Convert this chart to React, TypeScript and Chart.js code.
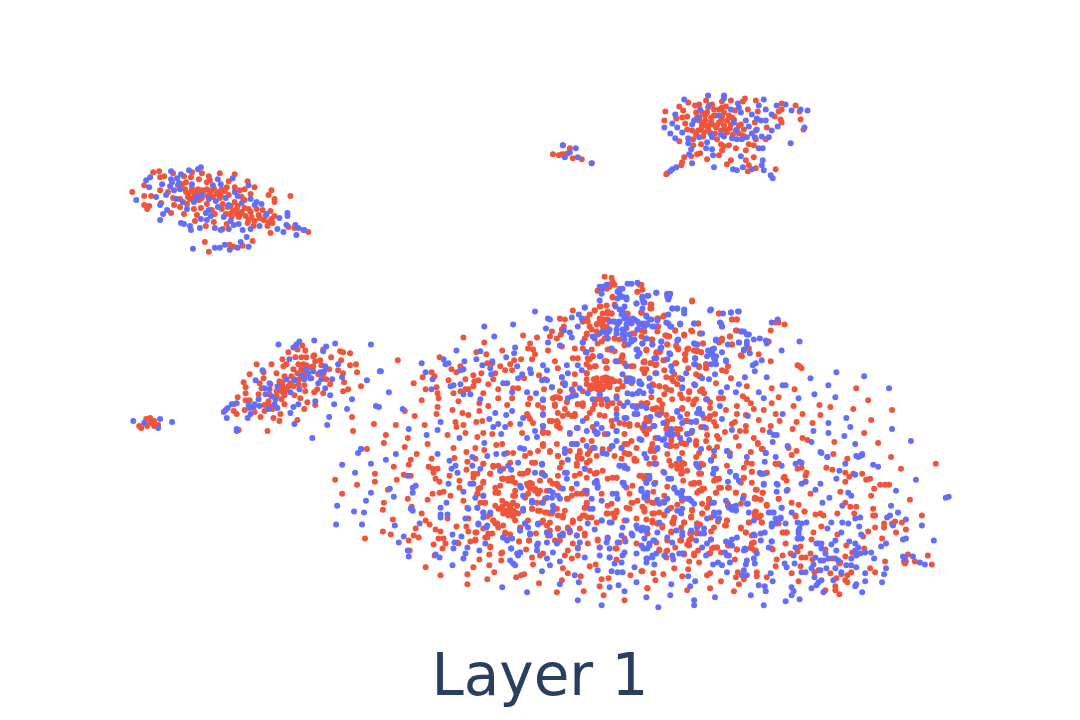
import React, { useEffect, useRef } from "react";
import { Chart, registerables } from "chart.js";

Chart.register(...registerables);

const titleText = "Layer 1";
const blueName = "Blue";
const redName = "Red";

const blueUpperLeft = [[134,198],[144,178],[148,175],[147,185],[154,195],[158,203],[165,208],[161,212],[158,218],[160,182],[169,169],[169,177],[179,172],[187,168],[196,167],[199,165],[170,180],[172,188],[164,193],[178,187],[190,182],[211,183],[216,177],[219,182],[231,176],[233,190],[207,197],[216,205],[185,207],[207,208],[222,215],[179,221],[182,222],[188,224],[189,228],[199,217],[205,218],[198,226],[213,226],[219,228],[227,227],[232,223],[241,228],[249,227],[258,224],[245,235],[239,240],[191,247],[213,246],[218,246],[223,243],[236,246],[247,245],[228,248],[253,203],[260,202],[249,197],[247,183],[278,216],[286,211],[286,214],[276,227],[282,230],[285,223],[294,223],[297,226],[295,233],[303,228],[195,195],[200,193],[227,203],[175,176],[177,181],[168,184],[174,197],[181,200],[192,200],[204,211],[209,214],[214,199],[224,196],[236,194],[240,201],[229,219],[237,222],[255,200],[265,212]];
const blueTop = [[563,143],[576,146],[565,155],[578,155],[592,161],[570,150],[685,97],[676,112],[673,121],[665,125],[678,125],[671,131],[676,136],[683,130],[689,136],[689,141],[693,122],[709,93],[725,93],[725,96],[739,101],[740,105],[765,97],[760,103],[767,107],[753,112],[758,116],[778,103],[787,102],[793,108],[809,108],[802,107],[806,125],[773,112],[767,118],[762,118],[779,124],[773,128],[770,135],[763,134],[753,131],[758,127],[748,135],[743,137],[738,137],[713,135],[708,140],[707,146],[713,147],[714,153],[692,147],[690,152],[693,161],[715,165],[792,141],[760,146],[764,146],[742,154],[764,158],[763,163],[734,167],[738,168],[744,165],[753,167],[765,168],[772,173],[774,176],[677,165],[673,167],[671,169],[700,115],[735,120],[747,118],[700,135],[722,132],[737,128],[720,113],[695,118],[701,107],[712,132],[725,134],[733,136],[742,110],[750,124],[756,135],[710,103],[732,107]];
const blueLeft = [[131,420],[158,418],[170,421],[142,422],[156,427],[277,343],[298,340],[313,339],[334,342],[370,343],[325,345],[322,350],[292,346],[295,343],[288,358],[337,363],[324,365],[323,370],[319,371],[307,372],[309,377],[303,378],[293,379],[320,378],[331,378],[317,382],[324,387],[329,394],[341,376],[366,379],[379,370],[351,398],[333,403],[346,408],[328,416],[326,424],[311,437],[293,423],[289,412],[292,406],[297,403],[314,400],[298,388],[289,391],[276,385],[268,382],[254,379],[261,369],[263,387],[268,388],[264,393],[257,398],[253,403],[247,404],[248,407],[252,406],[249,413],[246,417],[235,402],[230,403],[226,407],[224,409],[222,411],[225,417],[235,428],[235,430],[274,398],[273,403],[276,407],[267,408],[375,405],[378,406],[360,448],[305,368],[312,370],[300,374],[285,378],[270,395],[258,405]];
const blueMainUpperLeft = [[380,370],[388,391],[402,408],[408,428],[426,434],[437,429],[440,421],[459,437],[421,362],[425,371],[432,378],[431,388],[450,385],[453,384],[443,358],[445,363],[448,362],[456,349],[464,360],[463,368],[460,369],[460,383],[463,393],[470,393],[480,398],[484,325],[494,335],[513,323],[535,310],[476,358],[482,364],[480,350],[490,367],[492,360],[491,373],[506,356],[503,382],[507,382],[515,346],[514,352],[517,365],[522,373],[518,377],[530,368],[531,372],[512,391],[527,391],[536,392],[543,364],[547,369],[542,379],[547,379],[552,386],[543,398],[489,418],[495,412],[506,414],[512,410],[493,426],[498,423],[505,426],[501,433],[520,423],[523,417],[535,430],[543,425],[537,436],[527,437],[546,327],[548,317],[550,318],[548,341],[572,316],[579,313],[585,306],[564,329],[570,331],[572,336],[560,344],[583,341],[586,351],[601,355],[617,360],[567,364],[568,372],[562,376],[578,364],[582,369],[565,382],[572,388],[588,392],[576,394],[600,393],[568,397],[624,405],[633,393],[628,392],[607,398],[638,348],[627,365],[627,380],[633,378],[640,382],[638,392],[647,407],[627,417],[635,413],[617,418],[645,425],[597,423],[597,433],[617,430],[603,285],[607,283],[602,292],[620,287],[623,287],[628,282],[632,282],[638,281],[643,295],[620,292],[623,295],[600,299],[627,298],[637,302],[645,301],[623,310],[625,315],[633,317],[640,323],[645,325],[620,320],[628,320],[632,322],[617,328],[623,328],[638,328],[632,338],[625,333],[643,342],[637,348],[620,308],[625,305],[607,332],[609,330],[578,325],[593,335]];
const blueMainUpperRight = [[657,291],[668,292],[671,292],[668,295],[643,295],[649,294],[644,301],[673,307],[678,307],[685,310],[711,309],[724,312],[732,311],[739,310],[669,313],[647,314],[650,318],[658,319],[642,322],[648,323],[653,325],[667,321],[671,325],[681,322],[695,322],[721,321],[723,325],[703,332],[742,330],[745,330],[750,333],[755,338],[748,340],[748,343],[761,337],[767,339],[768,342],[773,321],[779,318],[801,340],[783,349],[662,340],[643,342],[653,343],[678,339],[661,347],[695,342],[698,343],[717,338],[715,347],[709,349],[713,351],[717,355],[716,359],[723,351],[729,343],[740,341],[745,349],[751,352],[763,359],[757,362],[754,364],[756,370],[727,360],[671,353],[655,357],[668,358],[696,357],[696,363],[712,363],[673,370],[716,373],[710,378],[703,377],[746,376],[768,376],[812,377],[838,371],[866,375],[740,383],[728,386],[722,391],[737,391],[760,391],[765,397],[784,384],[787,384],[816,393],[830,384],[837,396],[800,397],[891,387],[696,384],[683,386],[683,378],[642,383],[650,385],[644,392],[708,398],[721,405],[700,408],[698,412],[702,413],[723,418],[678,411],[681,416],[664,422],[660,414],[692,421],[642,405],[651,416],[654,425],[784,413],[749,415],[733,429],[771,431],[775,434],[778,434],[774,441],[815,430],[830,422],[830,432],[848,417],[852,426],[846,435],[857,443],[894,428],[913,440],[813,441],[671,432],[673,434],[668,433],[681,437],[693,430],[690,439],[659,437],[663,439],[642,439],[667,444],[658,448],[645,453],[702,448],[715,450],[728,450],[731,455],[748,456],[767,452],[789,445],[777,456],[822,451],[829,456],[858,455],[862,455],[864,453],[680,458],[712,459]];
const blueMainLowerLeft = [[357,452],[360,448],[385,459],[395,453],[341,464],[354,472],[370,463],[370,492],[365,500],[336,505],[353,511],[363,512],[335,524],[361,524],[389,488],[393,496],[394,525],[403,536],[398,542],[408,556],[407,550],[410,508],[412,510],[419,523],[407,475],[412,487],[412,492],[415,485],[437,453],[449,460],[455,465],[451,468],[457,472],[448,483],[463,491],[446,502],[440,507],[440,514],[447,514],[440,517],[465,518],[452,534],[461,536],[454,542],[453,548],[467,547],[465,553],[463,558],[435,554],[439,557],[452,565],[486,527],[478,524],[485,543],[477,507],[483,512],[470,483],[468,508],[472,456],[472,465],[480,468],[487,455],[496,453],[484,442],[511,469],[500,470],[520,447],[504,453],[524,448],[503,537],[507,539],[512,538],[511,548],[520,530],[525,523],[528,527],[538,524],[530,533],[537,545],[520,552],[518,555],[510,560],[513,563],[515,565],[542,571],[550,565],[560,561],[547,558],[502,587],[527,592],[578,600],[602,605],[579,582],[560,584],[575,575],[523,495],[523,508],[532,502],[521,487],[542,464],[535,472],[543,473],[550,490],[547,497],[553,505],[560,498],[565,472],[567,478],[572,443],[577,443],[587,445],[595,447],[603,452],[613,445],[622,447],[620,465],[625,465],[597,482],[598,487],[587,490],[613,493],[623,482],[642,490],[645,495],[593,508],[602,500],[602,520],[612,522],[623,527],[595,529],[588,523],[577,535],[563,535],[557,543],[547,542],[537,550],[553,552],[578,548],[585,557],[600,547],[607,542],[610,548],[610,557],[615,563],[623,555],[622,562],[612,571],[618,572],[623,572],[598,570],[635,567],[637,582],[619,585],[625,591],[632,533],[638,528],[645,528],[637,553],[645,548],[647,558],[610,587]];
const blueMainLowerRight = [[918,479],[948,497],[951,496],[936,540],[924,525],[908,519],[900,512],[893,505],[898,490],[875,464],[880,466],[864,454],[860,456],[847,463],[841,470],[857,474],[838,478],[822,483],[817,489],[803,483],[807,481],[831,497],[824,502],[850,492],[853,495],[844,505],[823,452],[829,456],[801,461],[783,465],[766,461],[767,452],[761,472],[763,473],[779,484],[765,484],[778,491],[737,476],[731,471],[717,468],[714,473],[729,481],[712,460],[728,450],[658,447],[675,487],[683,490],[682,495],[688,498],[692,500],[669,478],[650,478],[655,483],[647,482],[642,490],[648,495],[658,499],[715,502],[727,500],[734,507],[737,509],[732,506],[744,498],[749,503],[773,512],[783,507],[782,517],[777,523],[773,526],[787,523],[793,512],[799,522],[808,522],[803,523],[801,528],[800,533],[799,538],[803,538],[762,533],[766,532],[755,534],[773,541],[770,547],[733,539],[731,542],[720,518],[715,512],[708,518],[705,528],[698,527],[682,513],[668,510],[660,522],[643,527],[648,528],[642,530],[668,537],[673,542],[654,540],[650,545],[644,548],[657,553],[653,555],[648,558],[674,559],[655,564],[647,562],[683,553],[703,547],[697,540],[708,543],[726,552],[728,555],[731,562],[719,562],[723,565],[714,564],[746,548],[748,560],[755,558],[756,563],[747,564],[745,570],[743,575],[748,575],[728,572],[772,573],[774,581],[760,585],[766,586],[767,591],[752,595],[786,563],[788,567],[796,563],[803,572],[807,572],[793,587],[795,591],[793,595],[787,601],[801,599],[765,605],[716,597],[695,600],[695,605],[659,607],[671,595],[672,584],[691,586],[696,581],[647,597],[689,576],[815,564],[813,568],[817,557],[822,560],[825,560],[830,558],[827,553],[823,548],[820,543],[818,543],[823,543],[838,550],[837,558],[840,560],[853,558],[858,555],[862,553],[867,552],[857,550],[860,547],[851,541],[857,543],[873,552],[876,558],[883,546],[888,543],[905,539],[908,538],[905,556],[915,556],[922,562],[927,564],[907,558],[858,567],[853,565],[848,565],[837,568],[828,568],[822,570],[816,577],[820,582],[823,580],[818,585],[813,588],[825,592],[835,580],[843,572],[858,584],[857,586],[864,592],[867,573],[867,581],[884,582],[886,574],[888,568],[862,517],[857,518],[850,523],[844,522],[861,526],[863,534],[833,522],[829,528],[843,532],[837,540],[833,544],[892,515],[889,517],[895,525]];
const blueCentre = [[562,376],[552,386],[543,399],[543,413],[543,425],[565,384],[572,395],[580,387],[600,393],[593,398],[617,397],[628,401],[637,407],[633,405],[638,413],[625,417],[617,413],[583,420],[577,427],[570,432],[595,430],[598,432],[587,430],[608,433],[617,430],[617,440],[622,447],[612,445],[573,443],[577,443],[603,452],[607,453],[565,448],[568,459],[565,452],[640,438],[665,438],[672,428],[670,433],[673,433],[688,433],[693,430],[705,426],[700,408],[703,413],[683,422],[697,420],[647,457],[625,467],[650,377],[657,372],[640,380],[633,380],[630,377],[623,373],[640,390],[652,390],[683,387],[687,372],[695,383],[678,410],[602,427],[655,425],[697,463],[700,467],[655,463]];
const blueLowerLeftDense = [[473,483],[475,497],[483,495],[477,507],[483,512],[483,517],[490,512],[487,525],[478,523],[479,550],[503,537],[507,540],[511,548],[520,552],[517,553],[530,534],[538,543],[525,523],[520,530],[523,510],[532,500],[542,502],[520,485],[542,473],[545,475],[558,495],[553,492],[552,497],[577,483],[563,488],[567,472],[595,482],[598,485],[597,480],[585,468],[617,493],[618,498],[624,482],[625,485],[628,468],[620,465],[590,508],[602,520],[610,522],[627,520],[637,525],[633,535],[622,535],[626,541],[618,542],[608,538],[625,552],[610,557],[600,555],[580,542],[560,535],[563,533],[570,530],[577,535],[547,532],[550,535],[538,523],[553,510],[508,465],[518,462],[542,463],[500,470],[592,498]];
const blueLowerRightDense = [[642,488],[648,492],[645,497],[650,475],[665,472],[672,478],[675,488],[678,492],[683,497],[682,493],[690,498],[668,498],[660,503],[665,502],[683,508],[678,510],[695,503],[713,502],[720,512],[715,515],[730,507],[733,509],[737,510],[737,505],[748,503],[750,512],[755,520],[770,512],[775,512],[783,507],[782,518],[777,518],[773,523],[800,530],[800,538],[803,538],[797,547],[795,555],[642,528],[647,530],[658,532],[645,538],[655,540],[650,543],[642,545],[648,548],[677,530],[683,532],[692,530],[702,533],[705,533],[712,539],[683,535],[727,541],[733,545],[738,537],[747,549],[762,540],[758,553],[773,541],[797,463],[803,462],[715,468],[737,475],[740,480],[762,473],[765,473],[765,483],[778,483],[788,490],[673,555],[680,553],[707,555],[653,557],[665,555],[730,555],[745,550]];
const blueUpperDense = [[600,285],[603,287],[618,290],[622,295],[618,297],[627,296],[637,302],[643,298],[648,294],[657,291],[668,293],[670,295],[669,298],[616,305],[585,306],[643,307],[623,308],[622,313],[625,317],[630,318],[635,318],[647,315],[652,318],[638,320],[645,322],[655,325],[627,323],[618,323],[615,320],[610,320],[603,330],[610,328],[617,332],[625,328],[623,333],[630,333],[635,338],[647,337],[632,340],[582,317],[600,332],[595,337],[583,341],[587,351],[600,355],[608,337],[662,340],[662,346],[669,322],[672,325],[681,323],[673,307],[678,307],[685,308],[685,312],[712,308],[695,322],[732,311],[740,310],[722,322],[723,325],[743,330],[748,333],[740,341],[745,348],[717,339],[713,348],[712,353],[715,357],[708,355],[717,363],[695,342],[698,343],[679,338],[657,357],[670,352],[640,352],[638,355],[629,343],[625,338],[612,347],[727,359],[696,357],[695,363],[672,365]];

const redUpperLeft = [[130,190],[142,183],[142,194],[149,194],[142,203],[147,204],[145,207],[159,201],[151,170],[157,169],[158,175],[162,174],[158,188],[166,190],[171,196],[172,203],[169,211],[178,197],[178,205],[182,212],[171,171],[182,174],[189,175],[190,170],[200,171],[197,177],[176,183],[180,182],[184,180],[184,190],[190,188],[195,190],[200,188],[205,180],[207,174],[208,178],[218,171],[233,172],[227,179],[225,185],[210,188],[215,192],[220,187],[188,197],[185,202],[192,207],[199,206],[197,198],[205,202],[210,208],[213,212],[195,213],[193,219],[204,224],[212,220],[221,202],[220,207],[227,193],[224,212],[225,222],[221,227],[230,215],[237,215],[229,204],[235,207],[233,200],[240,195],[243,198],[233,185],[238,188],[243,187],[249,192],[246,179],[253,185],[247,207],[240,210],[247,218],[250,215],[255,207],[261,208],[257,213],[252,224],[262,218],[267,220],[270,217],[269,209],[273,200],[273,197],[270,188],[267,193],[289,194],[269,231],[287,225],[293,226],[302,228],[307,230],[203,240],[207,250],[228,243],[232,245],[241,244],[251,239],[183,187],[187,191],[190,186],[193,192],[196,187],[199,192],[202,189],[205,187],[208,192],[212,186],[216,190],[219,193],[223,189],[186,195],[192,195],[200,196],[206,194],[211,195],[218,196],[226,205],[231,209],[236,204],[239,212],[243,206],[228,212],[235,212],[244,214],[249,210],[253,219],[258,216],[264,214],[246,221],[266,224],[271,221],[273,214]];
const redTop = [[553,152],[559,153],[563,143],[570,146],[565,152],[568,151],[573,156],[582,157],[592,161],[562,152],[666,109],[665,118],[689,100],[680,104],[684,108],[677,116],[683,115],[688,114],[686,121],[696,103],[700,102],[707,98],[713,102],[723,99],[732,98],[727,104],[746,96],[744,99],[757,98],[749,107],[759,109],[783,101],[783,107],[780,109],[797,103],[801,109],[802,117],[805,127],[776,114],[782,117],[783,120],[756,120],[768,125],[757,128],[708,110],[712,115],[697,110],[698,115],[720,107],[725,110],[730,113],[733,115],[717,113],[722,118],[713,122],[708,123],[703,122],[702,127],[705,130],[718,123],[725,123],[732,122],[740,123],[745,127],[728,130],[688,127],[693,128],[697,132],[694,137],[680,139],[704,134],[702,142],[718,137],[722,142],[730,143],[725,144],[723,148],[737,146],[747,148],[750,142],[755,143],[767,137],[757,137],[694,143],[698,152],[692,154],[701,151],[708,157],[720,153],[755,155],[685,155],[683,160],[682,163],[668,171],[667,172],[732,158],[728,162],[747,158],[750,163],[749,169],[757,166],[777,167],[700,118],[703,124],[706,118],[709,126],[712,119],[715,113],[717,125],[720,120],[723,114],[726,127],[728,118],[731,126],[735,117],[738,127],[742,122],[699,128],[711,130],[716,131],[722,128],[734,132],[740,131],[744,133],[706,113],[703,110],[709,105],[723,105],[736,108],[715,107]];
const redLeft = [[137,425],[139,427],[144,418],[148,417],[145,425],[148,422],[152,420],[156,424],[152,425],[255,363],[270,363],[248,373],[242,381],[244,386],[244,392],[236,396],[244,399],[248,399],[232,403],[232,410],[235,413],[243,409],[253,411],[259,416],[266,430],[237,429],[272,417],[278,420],[279,413],[296,419],[303,408],[314,404],[306,401],[263,410],[263,404],[268,405],[271,408],[267,400],[257,393],[268,393],[275,390],[280,390],[283,394],[280,398],[283,403],[293,394],[299,397],[258,382],[260,387],[269,383],[278,380],[283,375],[281,385],[287,385],[292,385],[297,383],[303,384],[304,390],[313,391],[316,388],[322,392],[298,378],[304,374],[310,377],[317,373],[322,373],[325,378],[329,383],[343,381],[342,372],[337,369],[328,368],[342,390],[347,388],[360,385],[356,371],[355,363],[349,364],[340,359],[330,356],[339,350],[342,351],[349,352],[322,348],[313,354],[319,359],[312,365],[302,363],[297,363],[292,368],[285,363],[282,365],[275,372],[262,371],[262,377],[281,358],[287,351],[296,348],[301,344],[304,349],[300,356],[294,356],[305,356],[312,355],[352,430],[373,423],[351,416],[366,448],[278,385],[281,381],[285,388],[289,382],[293,378],[290,375],[296,372],[300,368],[305,364],[309,366],[314,360],[320,364],[303,370],[283,392],[275,395]];
const redMainUpperLeft = [[397,359],[385,434],[395,424],[404,410],[414,415],[413,382],[425,388],[421,399],[422,376],[431,371],[434,375],[436,386],[437,392],[438,397],[437,406],[436,413],[424,424],[407,437],[447,434],[452,409],[455,421],[456,426],[462,412],[468,414],[463,424],[465,432],[477,436],[476,421],[482,420],[479,410],[479,402],[488,405],[498,397],[498,388],[507,404],[488,383],[483,392],[448,379],[453,392],[458,400],[460,390],[465,388],[468,388],[473,385],[474,380],[465,378],[473,374],[478,379],[481,372],[451,368],[456,371],[460,365],[439,356],[463,336],[484,341],[476,351],[486,353],[487,362],[492,362],[495,372],[493,378],[502,349],[500,365],[505,369],[512,369],[510,363],[514,359],[521,358],[523,334],[530,342],[528,347],[537,336],[533,348],[532,358],[535,353],[548,349],[552,330],[550,335],[557,337],[561,333],[564,325],[560,317],[565,318],[573,309],[562,328],[562,345],[555,360],[558,367],[575,347],[573,357],[578,357],[588,357],[593,355],[587,363],[590,366],[596,365],[605,360],[607,367],[610,348],[615,350],[623,355],[620,360],[539,374],[544,388],[524,377],[513,387],[518,387],[512,397],[530,397],[528,403],[538,404],[543,407],[527,413],[530,418],[533,422],[543,414],[553,397],[560,397],[555,405],[558,412],[552,420],[558,422],[575,373],[587,372],[575,383],[587,378],[587,383],[590,388],[593,387],[597,377],[603,377],[608,377],[600,382],[605,385],[610,383],[597,385],[602,387],[615,380],[623,385],[627,377],[632,365],[645,370],[632,382],[617,395],[613,402],[617,408],[637,405],[642,402],[597,398],[602,398],[608,400],[578,403],[583,405],[568,413],[575,415],[587,417],[600,414],[605,415],[630,423],[638,424],[625,423],[593,426],[578,427],[570,433],[550,420],[557,425],[543,432],[522,432],[483,432],[492,433],[510,423],[528,415],[605,275],[612,276],[613,280],[610,285],[598,289],[642,283],[638,290],[613,295],[615,303],[601,305],[595,309],[608,312],[612,312],[587,317],[583,320],[597,323],[603,320],[607,325],[628,313],[642,311],[613,320],[598,333],[587,332],[590,325],[602,340],[608,337],[615,337],[627,327],[633,332],[645,330],[642,335],[625,344],[640,352],[645,361]];
const redMainUpperRight = [[693,300],[720,312],[733,318],[738,318],[651,303],[652,307],[642,311],[659,317],[664,315],[658,325],[642,329],[646,337],[652,338],[667,334],[670,335],[676,329],[685,334],[693,330],[699,322],[701,332],[668,343],[677,344],[679,347],[689,347],[686,353],[695,349],[698,350],[702,351],[704,342],[720,341],[723,339],[731,335],[738,329],[733,343],[750,347],[760,353],[743,355],[772,329],[770,340],[772,360],[777,321],[780,321],[786,323],[799,364],[801,365],[803,367],[647,349],[657,352],[660,351],[644,361],[651,362],[656,364],[664,359],[676,362],[686,359],[689,367],[707,363],[707,367],[700,366],[697,373],[701,375],[729,365],[727,370],[723,369],[732,377],[717,382],[643,368],[647,368],[645,372],[656,372],[665,369],[667,376],[672,377],[675,373],[681,377],[674,380],[678,383],[654,384],[660,385],[666,386],[672,389],[690,391],[681,393],[703,388],[701,390],[705,392],[748,385],[773,387],[796,388],[858,387],[665,393],[660,399],[673,398],[652,396],[648,402],[689,398],[695,400],[694,403],[711,401],[711,407],[720,397],[724,397],[744,395],[748,398],[752,402],[738,405],[727,409],[755,408],[765,409],[773,402],[780,396],[795,405],[821,404],[832,406],[855,408],[870,399],[894,409],[663,403],[657,407],[655,408],[662,408],[647,417],[667,414],[683,407],[683,408],[688,413],[711,415],[710,418],[716,413],[705,417],[697,421],[686,420],[673,418],[668,420],[715,421],[717,425],[738,413],[736,421],[733,423],[747,414],[760,419],[777,413],[781,420],[772,425],[764,429],[747,425],[747,430],[741,430],[726,431],[737,436],[804,413],[798,421],[814,422],[822,414],[794,428],[873,419],[866,432],[880,442],[836,441],[804,437],[809,439],[755,437],[759,442],[763,448],[645,423],[650,420],[645,430],[656,437],[667,428],[677,428],[681,428],[688,433],[692,432],[702,426],[707,427],[708,434],[718,435],[720,438],[707,440],[697,440],[683,442],[672,440],[653,443]];
const redMainLowerLeft = [[383,442],[404,446],[416,453],[410,459],[408,464],[393,466],[403,474],[410,475],[396,479],[374,473],[374,481],[356,484],[334,479],[341,493],[387,489],[383,502],[382,509],[407,498],[411,506],[421,513],[392,519],[382,531],[390,534],[364,538],[408,540],[413,535],[415,528],[418,537],[409,550],[425,567],[440,575],[467,574],[467,584],[434,555],[442,548],[433,544],[438,538],[443,538],[445,543],[435,529],[440,531],[425,520],[429,524],[447,518],[456,526],[466,526],[468,531],[476,532],[475,539],[470,541],[457,542],[458,543],[490,547],[479,559],[489,554],[473,567],[489,565],[494,572],[501,553],[501,560],[487,579],[516,577],[521,575],[524,574],[539,583],[557,592],[533,564],[532,557],[526,549],[519,541],[529,540],[505,533],[510,534],[492,533],[487,537],[483,528],[493,520],[497,523],[503,525],[487,516],[490,514],[468,518],[463,500],[467,507],[480,502],[485,502],[483,495],[477,493],[478,488],[483,481],[495,487],[500,485],[498,492],[502,500],[495,505],[500,508],[505,510],[510,507],[513,502],[515,495],[510,512],[515,512],[507,513],[515,520],[520,527],[502,478],[508,480],[512,477],[515,482],[503,468],[493,466],[498,465],[490,473],[477,473],[473,477],[483,463],[466,469],[467,461],[475,458],[454,457],[466,451],[475,447],[484,449],[496,444],[502,443],[453,447],[427,443],[431,458],[428,466],[432,468],[437,468],[433,472],[435,478],[439,481],[449,475],[459,480],[459,487],[432,493],[439,492],[443,491],[450,495],[427,499],[530,488],[535,490],[525,497],[527,483],[532,483],[520,473],[528,470],[535,462],[530,452],[525,455],[513,452],[507,452],[538,450],[543,443],[550,451],[558,455],[562,462],[550,480],[540,480],[538,490],[547,490],[557,483],[560,487],[543,502],[537,502],[532,508],[538,510],[547,512],[552,513],[543,520],[550,522],[558,528],[547,532],[548,535],[536,533],[557,508],[565,510],[563,517],[573,520],[568,528],[570,532],[580,518],[585,515],[592,517],[585,535],[573,543],[560,540],[568,550],[565,555],[572,558],[578,555],[543,553],[540,555],[563,568],[568,573],[562,580],[581,576],[600,586],[602,579],[609,578],[590,566],[596,564],[617,559],[616,548],[598,539],[620,542],[625,538],[637,543],[643,571],[631,575],[648,588],[584,591],[604,595],[625,600],[570,450],[580,452],[577,463],[578,457],[587,477],[575,475],[585,468],[595,473],[572,495],[582,493],[587,493],[567,498],[587,503],[585,507],[608,505],[612,503],[607,513],[613,513],[627,507],[632,502],[637,518],[617,510],[638,500],[645,508],[645,478],[640,475],[617,477],[608,478],[597,472],[627,487],[630,493],[615,455],[622,458],[628,453],[635,460],[597,455],[588,453],[603,448],[637,447],[625,443]];
const redMainLowerRight = [[670,445],[677,445],[685,443],[697,444],[710,447],[718,446],[740,445],[759,443],[764,448],[790,447],[798,450],[793,454],[835,453],[893,456],[938,463],[903,468],[651,450],[655,450],[668,453],[683,452],[700,452],[697,456],[715,455],[731,452],[752,451],[670,460],[650,463],[656,463],[678,465],[685,463],[682,468],[688,470],[704,464],[728,465],[748,462],[753,463],[745,467],[777,463],[780,463],[664,471],[682,473],[700,473],[753,471],[768,472],[745,477],[785,477],[799,468],[808,472],[807,481],[828,467],[834,469],[849,458],[847,472],[855,473],[851,476],[847,481],[864,473],[872,478],[868,479],[882,484],[887,484],[891,484],[876,488],[873,495],[912,499],[842,491],[812,493],[642,475],[647,482],[656,482],[684,480],[700,482],[695,483],[715,480],[718,479],[668,486],[654,491],[665,495],[648,499],[653,502],[664,501],[683,499],[702,490],[705,488],[698,492],[720,487],[717,492],[729,487],[737,492],[758,489],[764,492],[756,497],[762,499],[768,504],[789,489],[780,498],[793,502],[800,504],[847,502],[852,506],[858,506],[856,513],[875,508],[875,515],[877,515],[924,515],[904,522],[897,521],[886,523],[886,527],[877,527],[894,523],[908,529],[898,532],[884,538],[870,531],[865,536],[839,534],[823,526],[839,513],[822,513],[817,514],[825,515],[806,511],[797,516],[815,532],[784,532],[788,532],[813,539],[787,543],[774,549],[802,546],[799,551],[827,549],[848,545],[866,548],[854,552],[847,556],[834,558],[887,561],[910,554],[908,561],[906,561],[907,563],[917,561],[930,555],[934,564],[812,553],[807,557],[803,557],[814,559],[792,553],[784,555],[778,559],[777,566],[802,566],[820,570],[816,572],[832,573],[842,562],[841,563],[853,572],[849,575],[843,574],[838,578],[847,580],[849,582],[837,586],[837,590],[841,594],[827,590],[872,568],[877,572],[793,573],[800,581],[768,577],[758,572],[758,576],[745,579],[737,577],[739,572],[740,584],[722,581],[735,591],[711,588],[708,575],[711,573],[700,562],[690,561],[695,553],[685,554],[667,557],[660,549],[667,551],[676,547],[681,540],[688,544],[692,538],[699,550],[711,553],[722,552],[715,547],[718,547],[729,545],[738,549],[736,559],[752,547],[753,543],[756,535],[757,550],[747,532],[742,527],[726,525],[728,520],[719,520],[715,527],[712,539],[698,532],[691,533],[682,527],[674,520],[674,523],[685,522],[692,516],[698,523],[701,524],[703,513],[708,507],[710,499],[703,503],[693,509],[678,504],[672,507],[665,514],[660,512],[653,513],[647,519],[653,520],[658,523],[663,527],[672,531],[657,542],[648,533],[729,505],[750,522],[756,515],[757,511],[762,515],[763,522],[643,506],[645,511],[642,571],[654,573],[664,574],[656,580],[683,576],[688,590],[648,588],[675,568],[689,569]];
const redCentre = [[592,384],[596,380],[600,384],[604,379],[608,381],[612,378],[598,388],[603,388],[610,386],[594,378],[606,376],[555,396],[558,396],[555,403],[567,401],[578,403],[583,402],[575,413],[572,415],[565,408],[563,415],[590,412],[593,408],[595,403],[602,403],[601,398],[543,430],[548,432],[550,420],[557,420],[560,427],[543,445],[557,443],[550,450],[583,439],[592,440],[590,450],[580,450],[578,455],[582,458],[558,455],[590,460],[605,433],[612,420],[613,425],[620,422],[625,433],[630,425],[632,440],[628,443],[625,452],[630,453],[635,458],[647,420],[643,427],[650,428],[647,433],[653,408],[658,413],[662,412],[667,423],[673,418],[668,428],[678,433],[688,420],[683,397],[690,390],[697,398],[703,390],[707,398],[700,375],[680,377],[672,437],[672,445],[682,442],[687,443],[697,442],[677,463],[683,462],[652,447],[655,457],[637,460],[610,448],[593,447],[653,383],[660,385],[647,402],[668,388],[620,380],[623,385],[618,388],[608,405],[620,402],[560,390],[573,390],[583,390],[545,378],[587,372],[563,382]];
const redLowerLeftDense = [[502,506],[506,510],[510,506],[513,510],[517,505],[503,513],[508,515],[513,516],[518,513],[498,508],[506,503],[512,503],[473,473],[483,463],[493,465],[490,473],[503,478],[508,478],[512,480],[502,478],[483,482],[480,487],[477,493],[484,502],[498,492],[495,492],[515,490],[513,495],[528,493],[528,485],[535,488],[540,490],[538,493],[530,482],[558,485],[553,483],[545,498],[572,488],[568,498],[577,493],[585,490],[587,502],[585,507],[550,513],[545,512],[558,515],[563,515],[532,508],[540,510],[528,520],[542,522],[547,525],[550,530],[583,515],[588,517],[597,522],[573,522],[568,527],[580,528],[585,533],[558,528],[495,523],[493,520],[498,527],[488,533],[485,537],[505,532],[475,532],[475,540],[519,541],[529,540],[490,546],[502,552],[555,540],[578,547],[588,543],[598,540],[608,537],[617,548],[600,547],[602,493],[608,513],[617,512],[615,517],[625,520],[630,508],[633,502],[633,485],[613,477],[617,477],[587,462],[577,465],[580,473],[590,470],[597,472],[603,470],[560,467],[558,475],[542,472],[532,462],[523,473],[527,472],[510,462]];
const redLowerRightDense = [[683,463],[678,468],[683,472],[647,475],[657,463],[672,465],[698,465],[702,463],[702,473],[717,478],[720,478],[695,482],[700,482],[692,483],[655,483],[700,490],[703,488],[717,492],[722,487],[710,498],[683,500],[648,500],[655,502],[645,510],[655,513],[670,508],[675,517],[673,522],[685,522],[693,510],[692,517],[703,513],[712,517],[710,503],[698,523],[727,525],[728,520],[719,521],[712,531],[698,533],[692,533],[690,540],[682,540],[672,532],[663,525],[658,523],[653,522],[648,533],[665,515],[668,540],[690,545],[685,553],[695,555],[668,550],[660,550],[713,548],[718,547],[730,545],[738,549],[710,553],[753,548],[756,550],[755,542],[753,535],[747,532],[742,528],[750,522],[756,512],[757,517],[760,517],[763,522],[773,548],[785,532],[788,532],[797,515],[806,511],[780,523],[768,505],[729,503],[758,498],[764,492],[756,498],[780,498],[742,503],[730,487],[737,492],[757,489],[745,495],[753,482],[742,482],[745,477],[753,471],[768,472],[777,463],[780,463],[786,476],[788,480],[807,475],[803,467]];
const redUpperDense = [[598,289],[608,283],[612,282],[615,283],[607,287],[640,283],[643,288],[638,290],[613,296],[693,299],[600,305],[607,304],[652,303],[651,307],[595,309],[590,313],[583,320],[588,320],[603,312],[608,310],[612,312],[600,317],[605,318],[608,318],[598,322],[592,328],[587,333],[585,337],[597,330],[603,325],[605,330],[628,312],[642,311],[658,317],[665,314],[659,325],[658,330],[643,329],[635,332],[615,337],[620,338],[605,337],[598,342],[583,347],[592,348],[608,348],[613,349],[625,343],[647,348],[653,338],[653,343],[623,354],[622,357],[607,360],[593,355],[590,358],[587,363],[595,365],[607,367],[616,360],[625,362],[634,365],[645,360],[652,362],[657,363],[657,351],[661,350],[665,359],[677,362],[668,343],[666,334],[669,335],[676,329],[685,333],[677,345],[679,348],[692,329],[699,322],[701,332],[704,342],[688,348],[686,353],[695,349],[698,349],[702,351],[720,312],[733,318],[738,318],[720,339],[723,337],[731,335],[737,329],[733,343],[742,354],[700,365],[707,363],[707,367],[686,358]];

const toPoints = (groups: number[][][]) => groups.flat().map(([x, y]) => ({ x, y }));

export default function App() {
  const ref = useRef<HTMLCanvasElement>(null);
  useEffect(() => {
    document.body.style.margin = "0";
    const chart = new Chart(ref.current!, {
      type: "scatter",
      data: {
        datasets: [
          { label: blueName, data: toPoints([blueUpperLeft, blueTop, blueLeft, blueMainUpperLeft, blueMainUpperRight, blueMainLowerLeft, blueMainLowerRight, blueCentre, blueLowerLeftDense, blueLowerRightDense, blueUpperDense]), backgroundColor: "#636EFA", borderWidth: 0, pointRadius: 3, pointHoverRadius: 3 },
          { label: redName, data: toPoints([redUpperLeft, redTop, redLeft, redMainUpperLeft, redMainUpperRight, redMainLowerLeft, redMainLowerRight, redCentre, redLowerLeftDense, redLowerRightDense, redUpperDense]), backgroundColor: "#EF553B", borderWidth: 0, pointRadius: 3, pointHoverRadius: 3 },
        ],
      },
      options: {
        responsive: false,
        animation: false,
        layout: { padding: 0 },
        scales: {
          x: { type: "linear", display: false, min: 0, max: 1080 },
          y: { type: "linear", display: false, min: 0, max: 645.4, reverse: true },
        },
        plugins: {
          legend: { display: false },
          tooltip: { enabled: false },
          title: {
            display: true,
            text: titleText,
            position: "bottom",
            color: "#2A3F5F",
            font: { family: "'DejaVu Sans'", size: 58, weight: "normal", lineHeight: 1.2 },
            padding: { top: 0, bottom: 5 },
          },
        },
      },
    });
    return () => chart.destroy();
  }, []);
  return <canvas ref={ref} width={1080} height={720} style={{ display: "block" }} />;
}
